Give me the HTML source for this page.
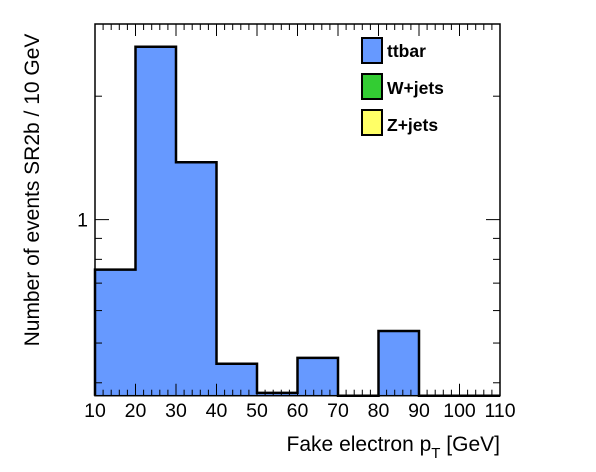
<!DOCTYPE html>
<html><head><meta charset="utf-8"><style>
body{margin:0;background:#fff}
svg{display:block;font-family:"Liberation Sans",sans-serif}
</style></head><body>
<svg id="c" width="596" height="472">
<rect width="596" height="472" fill="#fff"/>
<g id="bars"></g>
<g id="axes"></g>
<rect x="95" y="24" width="405" height="371.7" fill="none" stroke="#000" stroke-width="1.5"/>
<g>
<g><rect x="362" y="38" width="20" height="25" fill="#6699ff" stroke="#000" stroke-width="2"/><text x="387" y="57" font-size="17.5" font-weight="bold">ttbar</text></g>
<g><rect x="362" y="74" width="20" height="25" fill="#33cc33" stroke="#000" stroke-width="2"/><text x="387" y="94" font-size="17.5" font-weight="bold">W+jets</text></g>
<g><rect x="362" y="110" width="20" height="25" fill="#ffff66" stroke="#000" stroke-width="2"/><text x="387" y="131" font-size="17.5" font-weight="bold">Z+jets</text></g>
</g>
<text x="500" y="451" font-size="21" text-anchor="end">Fake electron p<tspan font-size="15" dy="7">T</tspan><tspan dy="-7"> [GeV]</tspan></text>
<text transform="translate(39,190) rotate(-90)" font-size="21" text-anchor="middle">Number of events SR2b / 10 GeV</text>
</svg>
<script>
const binEdges=[10,20,30,40,50,60,70,80,90,100,110];
const ttbar=[0.755,2.64,1.38,0.445,0.378,0.46,0,0.535,0,0];
const xTicks=[10,20,30,40,50,60,70,80,90,100,110];
const yMajor=[1];
const yMinor=[0.4,0.5,0.6,0.7,0.8,0.9,2,3];
const NS="http://www.w3.org/2000/svg";
const X0=95,X1=500,Y0=24,Y1=395.7,ymin=0.372,ymax=3.0;
function sx(v){return X0+(v-10)/100*(X1-X0);}
function sy(v){return Y1-(Math.log10(v)-Math.log10(ymin))/(Math.log10(ymax)-Math.log10(ymin))*(Y1-Y0);}
function mk(t,a,p){const e=document.createElementNS(NS,t);for(const k in a)e.setAttribute(k,a[k]);p.appendChild(e);return e;}
const bars=document.getElementById('bars'),axes=document.getElementById('axes');
let d="M"+sx(binEdges[0])+","+Y1;
ttbar.forEach((v,i)=>{
 const y=v>ymin?sy(v):Y1+3;
 if(v>ymin){const r=mk('rect',{x:sx(binEdges[i]),y:y,width:sx(binEdges[i+1])-sx(binEdges[i]),height:Y1-y,fill:'#6699ff'},bars);
 
 }
 d+=" L"+sx(binEdges[i])+","+Math.min(y,Y1)+" L"+sx(binEdges[i+1])+","+Math.min(y,Y1);
});
const out=mk('path',{d:d,fill:'none',stroke:'#000','stroke-width':2.5},bars);


for(let v=10;v<=110;v+=2){
 const maj=(v%10===0),L=maj?12:6,x=sx(v);
 mk('line',{x1:x,x2:x,y1:Y1,y2:Y1-L,stroke:'#000'},axes);
 mk('line',{x1:x,x2:x,y1:Y0,y2:Y0+L,stroke:'#000'},axes);
}
xTicks.forEach(v=>{const t=mk('text',{x:sx(v),y:417,'font-size':19.5,'text-anchor':'middle'},axes);t.textContent=v;
 
 });
yMajor.forEach(v=>{const y=sy(v);
 mk('line',{x1:X0,x2:X0+14,y1:y,y2:y,stroke:'#000'},axes);
 mk('line',{x1:X1,x2:X1-14,y1:y,y2:y,stroke:'#000'},axes);
 const t=mk('text',{x:88,y:y+7,'font-size':19.5,'text-anchor':'end'},axes);t.textContent=v;
 
 });
yMinor.forEach(v=>{const y=sy(v);
 mk('line',{x1:X0,x2:X0+7,y1:y,y2:y,stroke:'#000'},axes);
 mk('line',{x1:X1,x2:X1-7,y1:y,y2:y,stroke:'#000'},axes);});
</script>
</body></html>
